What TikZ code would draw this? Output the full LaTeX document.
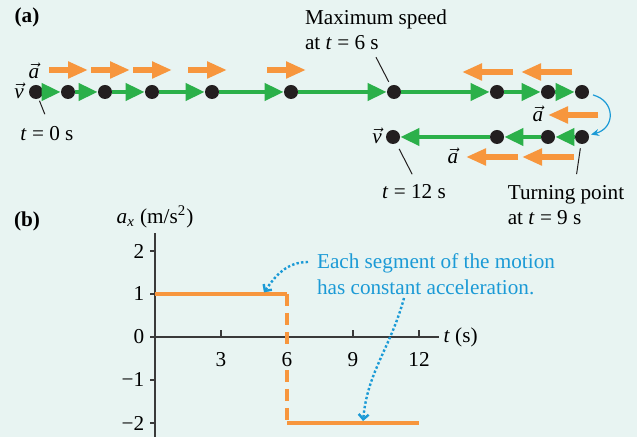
\documentclass[tikz,border=0pt]{standalone}
\usepackage{fontspec}
\setmainfont{Liberation Serif}
\usepackage{tikz}
\usetikzlibrary{arrows.meta, positioning, calc}
\definecolor{background}{HTML}{E8F4F2}
\definecolor{velgreen}{HTML}{2BB04A}
\definecolor{accorange}{HTML}{F7963D}
\definecolor{notecyan}{HTML}{1B9AD6}
\definecolor{dotblack}{HTML}{231F20}
\definecolor{axisgray}{HTML}{3A3A3A}
\newcommand{\va}{$\vec{\textit{a}}$}
\newcommand{\vv}{$\vec{\textit{v}}$}
\tikzset{
%     motion diagram
    dot/.style={circle, fill=dotblack, inner sep=0pt, minimum size=7pt},
    vel/.style={-{Triangle[length=9.5pt, width=8.5pt]}, line width=2pt, draw=velgreen},
    acc/.style={-{Triangle[length=10pt, width=8pt]}, line width=2.6pt, draw=accorange},
    leader/.style={draw=dotblack, line width=0.5pt},
    turn/.style={-{Stealth[length=4pt, width=3.5pt]}, draw=notecyan, line width=0.6pt},
%     graph
    axis/.style={draw=axisgray, line width=0.8pt},
    graph/.style={draw=accorange, line width=1.6pt},
    noteline/.style={draw=notecyan, line width=1.2pt, dash pattern=on 1.2pt off 1.1pt, -{Straight Barb[length=2.5pt, width=5pt]}, shorten >=1pt},
}

\begin{document}
\begin{tikzpicture}[x=0.5pt, y=-0.5pt, font=\fontsize{10.6}{12.7}\selectfont]
        \useasboundingbox (0,0) rectangle (637,437);
        \fill[background] (0,0) rectangle (637,437);
        % Panel labels
        \node (lbla) at (27,17) {\textbf{(a)}};
        \node (lblb) at (27,221) {\textbf{(b)}};
        % Forward run
        \node (p1) [dot] at (36,92) {};
        \node (p2) [dot] at (68,92) {};
        \node (p3) [dot] at (105,92) {};
        \node (p4) [dot] at (152,92) {};
        \node (p5) [dot] at (212,92) {};
        \node (p6) [dot] at (291,92) {};
        \node (p7) [dot] at (394,92) {};
        \node (p8) [dot] at (497,92) {};
        \node (p9) [dot] at (548,92) {};
        \node (p10) [dot] at (582,92) {};
        % Backward run
        \node (q1) [dot] at (393,137) {};
        \node (q2) [dot] at (497,137) {};
        \node (q3) [dot] at (548,137) {};
        \node (q4) [dot] at (582,137) {};
        % velocity
        \draw[vel] (p1) -- (p2);
        \draw[vel] (p2) -- (p3);
        \draw[vel] (p3) -- (p4);
        \draw[vel] (p4) -- (p5);
        \draw[vel] (p5) -- (p6);
        \draw[vel] (p6) -- (p7);
        \draw[vel] (p7) -- (p8);
        \draw[vel] (p8) -- (p9);
        \draw[vel] (p9) -- (p10);
        \draw[vel] (q4) -- (q3);
        \draw[vel] (q3) -- (q2);
        \draw[vel] (q2) -- (q1);
        % acceleration
        \foreach \xa in {49,91,133,188,267}
            \draw[acc] (\xa,70) -- ++(39,0);
        \foreach \xa in {513,572}
            \draw[acc] (\xa,72) -- ++(-51,0);
        \draw[acc] (598,115) -- ++(-50,0);
        \foreach \xa in {518,574}
            \draw[acc] (\xa,157) -- ++(-52,0);
        % vector labels
        \node (va1) at (34,71) {\va};
        \node (vv1) at (19,91) {\vv};
        \node (va2) at (538,114) {\va};
        \node (vv2) at (377,136) {\vv};
        \node (va3) at (453,156) {\va};
        % times
        \node (t0) at (47,134) {\textit{t} = 0 s};
        \node (tmax) [align=left] at (376,30) {Maximum speed\\at \textit{t} = 6 s};
        \node (t12) at (414,192) {\textit{t} = 12 s};
        \node (tturn) [align=left] at (566,205) {Turning point\\at \textit{t} = 9 s};
        \draw[leader, shorten <=1pt, shorten >=3pt] (p1) -- (t0.north);
        \draw[leader, shorten >=2pt] (tmax.south) -- (p7);
        \draw[leader, shorten <=3pt, shorten >=2pt] (q1) -- (t12.north);
        \draw[leader, shorten <=2pt, shorten >=2pt] (q4) -- ([xshift=5pt]tturn.north);
        % turning
        \draw[turn, shorten <=2pt, shorten >=1pt] (p10) to[bend left=75, looseness=1.7] (q4);

        % Graph
        \begin{scope}[shift={(155,337)}, x=11pt, y=21.5pt]
            \coordinate (c1) at (4.9,1);
            \coordinate (c2) at (9.45,-2);
            \draw[axis] (0,-2.35) -- (0,2.42) node (aylab) [above, inner sep=2pt] {\textit{a}\textsubscript{\textit{x}} (m/s\textsuperscript{2})};
            \draw[axis] (0,0) -- (12.9,0) node (txlab) [right, inner sep=2pt] {\textit{t} (s)};
            \foreach \v/\lab in {2/2, 1/1, 0/0, -1/−1, -2/−2}
                \draw[axis] (0,\v) -- ++(-2.5pt,0) node [left, inner sep=2.5pt] {\lab};
            \foreach \t in {3,9,12}
                \draw[axis] (\t,0) -- ++(0,3.5pt);
            \draw[graph] (0,1) -- (6,1);
            \draw[graph, dash pattern=on 6pt off 3.5pt] (6,1) -- (6,-2);
            \draw[graph] (6,-2) -- (12,-2);
            \foreach \t in {3,6,9,12}
                \node [below=6.5pt, fill=background, inner sep=1pt] at (\t,0) {\t};
        \end{scope}
        % Note
        \node (note) [align=left, anchor=west, text=notecyan] at (310,274) {Each segment of the motion\\has constant acceleration.};
        \coordinate (n1) at ([xshift=-1pt, yshift=6pt]note.west);
        \coordinate (n2) at ($(note.west) + (94,24)$);
        \draw[noteline] (n1) to[out=180, in=55] (c1);
        \draw[noteline] (n2) to[out=-105, in=85] (c2);
\end{tikzpicture}
\end{document}
